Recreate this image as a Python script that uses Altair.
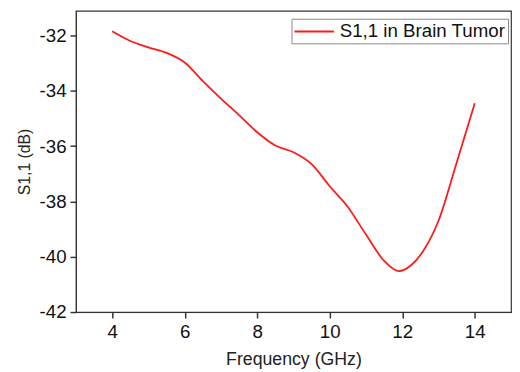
import altair as alt
import pandas as pd

freq = [4.0, 4.5, 5.0, 5.5, 6.0, 6.5, 7.0, 7.5, 8.0, 8.5, 9.0, 9.5, 10.0, 10.5,
        11.0, 11.5, 11.9, 12.25, 12.6, 13.0, 13.5, 14.0]
s11 = [-31.85, -32.2, -32.43, -32.63, -32.98, -33.65, -34.28, -34.88, -35.5, -35.98,
       -36.22, -36.65, -37.45, -38.2, -39.2, -40.15, -40.52, -40.3, -39.75, -38.7,
       -36.6, -34.45]
series_name = "S1,1 in Brain Tumor"
x_major = [4, 6, 8, 10, 12, 14]
y_major = [-42, -40, -38, -36, -34, -32]

df = pd.DataFrame({"f": freq, "s": s11, "series": [series_name] * len(freq)})

FONT = "Liberation Sans"
AX = "#333"
xs = alt.Scale(domain=[3, 15], nice=False, zero=False)
ys = alt.Scale(domain=[-42, -31.11], nice=False, zero=False)

main = alt.Chart(df).mark_line(strokeWidth=1.8, interpolate="monotone").encode(
    x=alt.X("f:Q", scale=xs,
            axis=alt.Axis(title="Frequency (GHz)", values=x_major, ticks=True, tickSize=6,
                          tickWidth=1.5, tickColor=AX, labelExpr="'' + datum.value",
                          labelFontSize=19, labelPadding=5, labelColor="#111",
                          titleFontSize=18, titleFontWeight="normal", titleColor="#222",
                          titlePadding=9, grid=False, domainColor=AX,
                          labelFont=FONT, titleFont=FONT)),
    y=alt.Y("s:Q", scale=ys,
            axis=alt.Axis(title="S1,1 (dB)", values=y_major, ticks=True, tickSize=6,
                          tickWidth=1.5, tickColor=AX, labelExpr="'' + datum.value",
                          labelFontSize=19, labelPadding=4, labelColor="#111",
                          titleFontSize=16, titleFontWeight="normal", titleColor="#222",
                          titlePadding=7, grid=False, domainColor=AX,
                          labelFont=FONT, titleFont=FONT)),
    color=alt.Color("series:N",
                    scale=alt.Scale(domain=[series_name], range=["#ff1a1a"]),
                    legend=alt.Legend(title=None, orient="none", legendX=219, legendY=8,
                                      symbolType="M-2,0H2", symbolSize=400,
                                      symbolOffset=10, labelOffset=15, labelLimit=300,
                                      symbolStrokeWidth=2, labelFontSize=19,
                                      labelFont=FONT, labelColor="#111",
                                      strokeColor="#888", fillColor="white",
                                      padding=2, cornerRadius=0)),
)

chart = main.properties(
    width=442, height=306,
    autosize=alt.AutoSizeParams(type="none"),
    padding={"left": 69, "top": 0, "right": 1, "bottom": 58},
).configure_view(stroke=AX, strokeWidth=1.2)

chart.save("out.html", embed_options={"renderer": "svg", "actions": False})
